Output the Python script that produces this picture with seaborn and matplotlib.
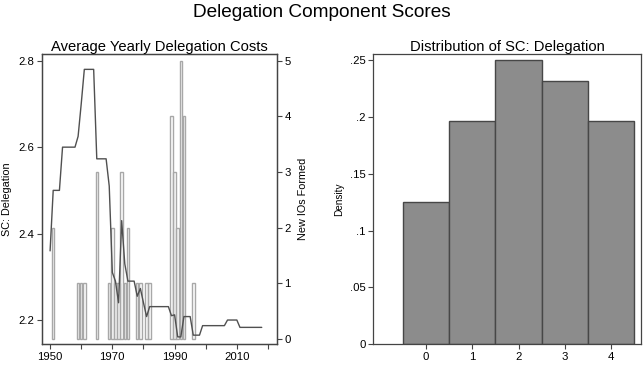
import matplotlib
matplotlib.use("Agg")
import matplotlib.pyplot as plt
import seaborn as sns

sns.set_theme(style="white")
plt.rcParams['font.family'] = ['Liberation Sans', 'DejaVu Sans']
plt.rcParams['text.color'] = 'black'
plt.rcParams['axes.labelcolor'] = 'black'
plt.rcParams['xtick.color'] = 'black'
plt.rcParams['ytick.color'] = 'black'

# --- Left panel data ---
line_years = [1950, 1951, 1952, 1953, 1954, 1955, 1956, 1957, 1958, 1959, 1960,
              1961, 1962, 1963, 1964, 1965, 1966, 1967, 1968, 1969, 1970, 1971,
              1972, 1973, 1974, 1975, 1976, 1977, 1978, 1979, 1980, 1981, 1982,
              1983, 1984, 1985, 1986, 1987, 1988, 1989, 1990, 1991, 1992, 1993,
              1994, 1995, 1996, 1997, 1998, 1999, 2000, 2001, 2002, 2003, 2004,
              2005, 2006, 2007, 2008, 2009, 2010, 2011, 2012, 2013, 2014, 2015,
              2016, 2017, 2018]
line_vals = [2.36, 2.50, 2.50, 2.50, 2.60, 2.60, 2.60, 2.60, 2.60, 2.625, 2.70,
             2.78, 2.78, 2.78, 2.78, 2.573, 2.573, 2.573, 2.573, 2.51, 2.31, 2.29,
             2.24, 2.43, 2.33, 2.29, 2.29, 2.29, 2.255, 2.273, 2.24, 2.208, 2.231,
             2.231, 2.231, 2.231, 2.231, 2.231, 2.231, 2.21, 2.212, 2.161, 2.161, 2.208,
             2.208, 2.208, 2.165, 2.165, 2.165, 2.187, 2.187, 2.187, 2.187, 2.187, 2.187,
             2.187, 2.187, 2.20, 2.20, 2.20, 2.20, 2.183, 2.183, 2.183, 2.183, 2.183,
             2.183, 2.183, 2.183]

bar_years = [1951, 1959, 1960, 1961, 1965, 1969, 1970, 1971, 1972, 1973, 1974,
             1975, 1978, 1979, 1981, 1982, 1989, 1990, 1991, 1992, 1993, 1996]
bar_counts = [2, 1, 1, 1, 3, 1, 2, 1, 1, 3, 1,
              2, 1, 1, 1, 1, 4, 3, 2, 5, 4, 1]

# --- Right panel data ---
hist_categories = [0, 1, 2, 3, 4]
hist_density = [0.125, 0.196, 0.25, 0.232, 0.196]

fig = plt.figure(figsize=(6.43, 3.65), dpi=100)
ax = fig.add_axes([0.0658, 0.0575, 0.4303 - 0.0658, 0.852 - 0.0575])
ax2 = ax.twinx()
axr = fig.add_axes([0.5806, 0.0567, 0.997 - 0.5806, 0.852 - 0.0567])

spine_col = "#444444"

# Bars (right axis)
sns.barplot(x=bar_years, y=bar_counts, native_scale=True, width=0.8, fill=False,
            color="#a8a8a8", linewidth=1.0, errorbar=None, ax=ax2)
# Line (left axis)
sns.lineplot(x=line_years, y=line_vals, color="#505050", linewidth=1.0, ax=ax)

ax.set_zorder(ax2.get_zorder() + 1)
ax.patch.set_visible(False)

ax.set_xlim(1947.5, 2022.8)
ax2.set_xlim(1947.5, 2022.8)
ax.set_ylim(2.1445, 2.8155)
ax2.set_ylim(-0.09, 5.12)
ax.set_yticks([2.2, 2.4, 2.6, 2.8])
ax.set_yticklabels(["2.2", "2.4", "2.6", "2.8"])
ax2.set_yticks([0, 1, 2, 3, 4, 5])
ax2.set_yticklabels(["0", "1", "2", "3", "4", "5"])
ax.set_xticks([1950, 1970, 1990, 2010])
ax.set_xticklabels(["1950", "1970", "1990", "2010"])
ax.set_xticks([1960, 1980, 2000, 2020], minor=True)
ax2.set_xticks([1950, 1970, 1990, 2010])
ax2.set_xticklabels(["1950", "1970", "1990", "2010"])
ax2.set_xticks([1960, 1980, 2000, 2020], minor=True)
ax.set_ylabel("SC: Delegation", fontsize=7.8, labelpad=5)
ax2.set_ylabel("New IOs Formed", fontsize=7.8, labelpad=5)
ax.set_xlabel("")
ax2.set_xlabel("")
ax.set_title("Average Yearly Delegation Costs", fontsize=10.6, pad=2.5)

for a in (ax, ax2):
    for s in a.spines.values():
        s.set_color(spine_col)
        s.set_linewidth(0.9)
    a.tick_params(axis="both", which="both", direction="out", length=3.5,
                  width=0.8, color=spine_col, labelcolor="black", labelsize=8.2, pad=2)
ax.tick_params(axis="x", which="both", bottom=True)
ax.tick_params(axis="y", left=True)
ax2.tick_params(axis="y", right=True)

# Right panel histogram
sns.histplot(x=hist_categories, weights=hist_density, bins=[-0.5, 0.5, 1.5, 2.5, 3.5, 4.5],
             color="#8c8c8c", edgecolor="#474747", linewidth=1.0, alpha=1.0, ax=axr)
axr.set_xlim(-1.14, 4.65)
axr.set_ylim(0, 0.2553)
axr.set_xticks([0, 1, 2, 3, 4])
axr.set_yticks([0, 0.05, 0.1, 0.15, 0.2, 0.25])
axr.set_yticklabels(["0", ".05", ".1", ".15", ".2", ".25"])
axr.set_ylabel("Density", fontsize=7.2, labelpad=4)
axr.set_xlabel("")
axr.set_title("Distribution of SC: Delegation", fontsize=10.6, pad=2.5)
for s in axr.spines.values():
    s.set_color(spine_col)
    s.set_linewidth(0.9)
axr.tick_params(axis="both", direction="out", length=3.5, width=0.8,
                color=spine_col, labelcolor="black", labelsize=8.2, pad=2,
                bottom=True, left=True)

fig.suptitle("Delegation Component Scores", fontsize=13.7, y=0.99)

fig.savefig("out.png", dpi=100)
